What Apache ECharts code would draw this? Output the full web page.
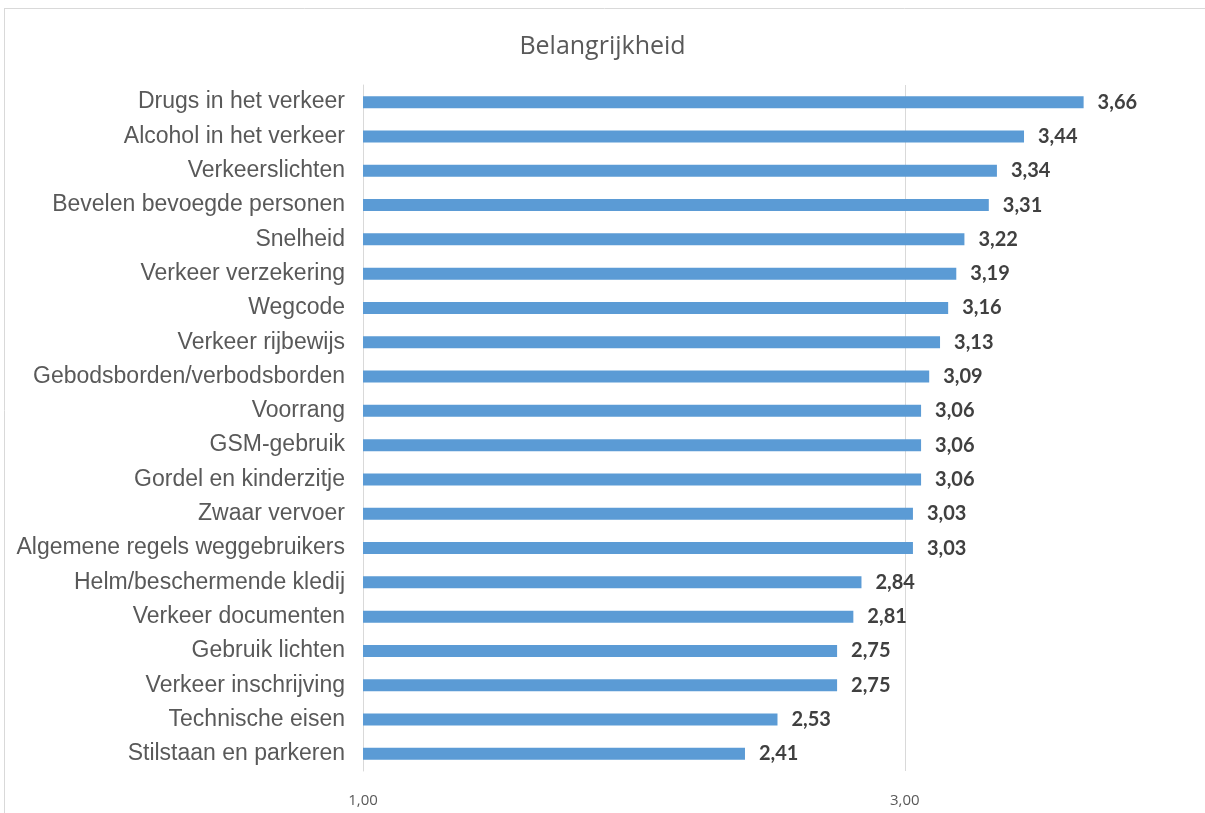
<!DOCTYPE html>
<html>
<head>
<meta charset="utf-8">
<script src="https://cdn.jsdelivr.net/npm/echarts@6/dist/echarts.min.js"></script>
<style>html,body{margin:0;padding:0;background:#fff}#c{width:1205px;height:813px}</style>
</head>
<body>
<div id="c"></div>
<script>
const categories = ["Drugs in het verkeer","Alcohol in het verkeer","Verkeerslichten","Bevelen bevoegde personen","Snelheid","Verkeer verzekering","Wegcode","Verkeer rijbewijs","Gebodsborden/verbodsborden","Voorrang","GSM-gebruik","Gordel en kinderzitje","Zwaar vervoer","Algemene regels weggebruikers","Helm/beschermende kledij","Verkeer documenten","Gebruik lichten","Verkeer inschrijving","Technische eisen","Stilstaan en parkeren"];
const values = [3.66,3.44,3.34,3.31,3.22,3.19,3.16,3.13,3.09,3.06,3.06,3.06,3.03,3.03,2.84,2.81,2.75,2.75,2.53,2.41];
const axisMin = 1, axisMax = 3.75, axisStep = 2;
const gridValues = [3];
const fmt = v => v.toFixed(2).replace('.', ',');

const chart = echarts.init(document.getElementById('c'));
chart.setOption({
  animation: false,
  title: {text: 'Belangrijkheid', left: 'center', top: 29,
    textStyle: {fontFamily: 'Open Sans', fontSize: 25, fontWeight: 'normal', color: '#595959'}},
  graphic: [
    {type: 'line', shape: {x1: 4, y1: 8.5, x2: 1205, y2: 8.5}, style: {stroke: '#d9d9d9', lineWidth: 1}},
    {type: 'line', shape: {x1: 4.5, y1: 8, x2: 4.5, y2: 813}, style: {stroke: '#d9d9d9', lineWidth: 1}}
  ],
  grid: {left: 363, top: 85, height: 686, right: 97, containLabel: false},
  xAxis: {type: 'value', min: axisMin, max: axisMax, interval: axisStep,
    axisLine: {show: false}, axisTick: {show: false},
    splitLine: {show: false},
    axisLabel: {formatter: v => ((v - axisMin) % axisStep === 0 ? fmt(v) : ''), margin: 22,
      fontFamily: 'Open Sans', fontSize: 15, color: '#595959'}},
  yAxis: {type: 'category', data: categories, inverse: true,
    axisLine: {show: true, lineStyle: {color: '#d9d9d9', width: 1}}, axisTick: {show: false},
    axisLabel: {margin: 18, fontFamily: 'Liberation Sans', fontSize: 23, color: '#595959'}},
  series: [
    {type: 'line', data: [], z: 1, silent: true,
      markLine: {silent: true, z: 1, symbol: 'none', label: {show: false},
        lineStyle: {color: '#d9d9d9', width: 1, type: 'solid'},
        data: gridValues.map(v => ({xAxis: v}))}},
    {type: 'bar', data: values, barWidth: 12, z: 2,
      itemStyle: {color: '#5b9bd5'},
      label: {show: true, position: 'right', distance: 14, formatter: p => fmt(p.value),
        fontFamily: 'Lato', fontWeight: 'bold', fontSize: 20, color: '#404040'}}]
});
</script>
</body>
</html>
